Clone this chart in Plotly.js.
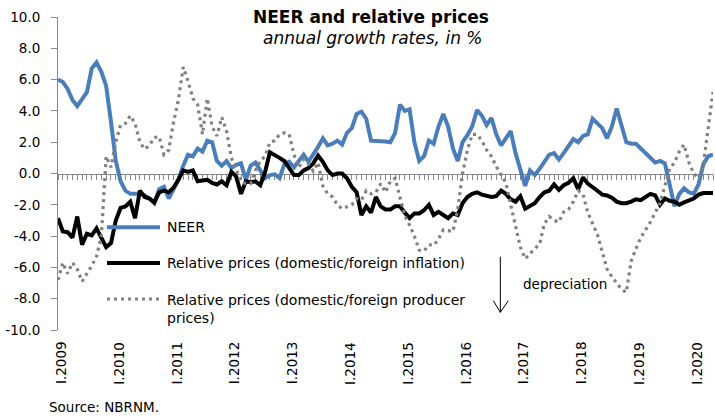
<!DOCTYPE html>
<html><head><meta charset="utf-8">
<script src="https://cdn.plot.ly/plotly-3.0.1.min.js"></script>
<style>html,body{margin:0;padding:0;background:#fff}#chart{width:715px;height:418px}</style>
</head><body><div id="chart"></div>
<script>
// ---- data ----
const firstYear = 2009, lastYear = 2020, lastMonth = 5;
const months = [];
for (let y = firstYear; y <= lastYear; y++) {
  for (let m = 1; m <= 12; m++) {
    if (y === lastYear && m > lastMonth) break;
    months.push(y + '-' + (m < 10 ? '0' + m : m));
  }
}
const tickCats = ['2009-01','2010-01','2011-01','2012-01','2013-01','2014-01','2015-01','2016-01','2017-01','2018-01','2019-01','2020-01'];
const tickLabels = ['I.2009','I.2010','I.2011','I.2012','I.2013','I.2014','I.2015','I.2016','I.2017','I.2018','I.2019','I.2020'];
const yTickVals = [-10,-8,-6,-4,-2,0,2,4,6,8,10];
const yTickText = ['-10.0','-8.0','-6.0','-4.0','-2.0','0.0','2.0','4.0','6.0','8.0','10.0'];

const neer = [
 6.0, 5.85, 5.4, 4.7, 4.3, 4.7, 5.2, 6.7, 7.1, 6.5, 5.6, 3.3,
 0.8, -0.5, -1.1, -1.3, -1.3, -1.3, -1.4, -1.6, -1.9, -1.0, -0.85, -1.6,
 -1.0, -0.4, 0.5, 1.2, 1.1, 1.6, 1.4, 2.1, 2.0, 0.8, 0.5, 0.8,
 0.35, 0.55, 0.65, -0.4, 0.5, 0.7, 0.2, -0.3, -0.1, -0.05, -0.3, 0.6,
 0.75, 0.4, 0.8, 1.2, 0.75, 1.2, 1.7, 2.25, 1.8, 1.9, 2.1, 1.85,
 2.6, 2.9, 3.8, 3.95, 3.5, 2.1, 2.1, 2.1, 2.05, 2.0, 2.6, 4.4,
 4.0, 4.1, 2.0, 0.8, 1.1, 2.1, 1.9, 3.0, 3.8, 3.0, 1.6, 0.8,
 2.0, 2.45, 3.0, 4.05, 3.7, 3.1, 3.55, 2.5, 1.8, 2.25, 2.7, 1.3,
 0.2, -0.8, 0.2, -0.1, 0.3, 0.75, 1.2, 1.3, 0.9, 1.3, 1.7, 2.2,
 2.0, 2.4, 2.5, 3.5, 3.2, 2.9, 2.25, 3.0, 4.15, 3.0, 2.0, 1.9,
 1.9, 1.6, 1.3, 1.07, 0.7, 0.8, 0.65, -0.7, -2.1, -1.3, -0.95, -1.2,
 -1.3, -0.7, 0.6, 1.1, 1.2
];
const relCPI = [
 -2.85, -3.7, -3.75, -4.1, -2.75, -4.55, -3.85, -3.95, -3.5, -4.1, -4.7, -4.45,
 -3.0, -2.2, -2.1, -1.8, -2.85, -1.1, -1.5, -1.6, -1.85, -1.2, -1.1, -1.2,
 -0.9, -0.4, 0.2, 0.1, 0.2, -0.5, -0.45, -0.4, -0.6, -0.7, -0.5, -0.75,
 0.1, -0.2, -1.3, -0.5, -0.55, -0.5, -0.75, 0.1, 1.35, 1.2, 1.0, 0.8,
 0.35, -0.1, -0.1, 0.2, 0.35, 0.65, 1.15, 0.75, 0.2, -0.1, 0.0, 0.0,
 -0.3, -0.85, -1.2, -2.65, -2.1, -2.5, -1.5, -2.1, -2.3, -2.3, -2.1, -2.1,
 -2.5, -2.85, -2.55, -2.55, -2.35, -2.0, -2.65, -2.45, -2.65, -2.85, -2.55, -2.65,
 -1.9, -1.5, -1.3, -1.2, -1.35, -1.45, -1.5, -1.45, -1.1, -1.3, -1.65, -1.8,
 -1.45, -2.25, -2.1, -1.9, -1.5, -1.2, -1.1, -0.7, -1.05, -0.75, -0.6, -0.3,
 -1.0, -0.25, -0.65, -0.85, -1.1, -1.35, -1.4, -1.55, -1.8, -1.9, -1.9, -1.8,
 -1.65, -1.7, -1.5, -1.3, -1.4, -2.0, -1.6, -1.75, -1.8, -2.0, -1.85, -1.7,
 -1.6, -1.35, -1.25, -1.25, -1.25
];
const relPPI = [
 -6.8, -5.7, -6.4, -5.7, -6.1, -6.9, -6.4, -5.9, -5.3, -4.0, 1.1, 0.4,
 2.0, 3.1, 3.2, 3.7, 3.2, 2.0, 1.55, 1.8, 2.3, 2.35, 1.2, 1.5,
 3.3, 4.7, 6.8, 5.9, 4.8, 4.4, 2.5, 4.8, 3.0, 2.4, 3.6, 2.7,
 1.0, 0.3, -0.5, -0.65, -0.65, 0.2, 0.8, 1.1, 2.0, 2.1, 2.5, 2.6,
 2.5, 1.2, 0.4, 0.9, 0.6, 0.15, 0.7, -0.8, -1.3, -1.5, -2.0, -2.25,
 -2.1, -2.0, -1.6, -1.7, -1.1, -1.3, -1.2, -0.65, -1.2, -0.5, -0.3, -1.5,
 -2.7, -3.3, -4.0, -4.9, -4.95, -4.55, -4.6, -4.2, -3.6, -3.65, -3.7, -2.3,
 0.0, 1.5, 2.5, 2.5, 2.1, 1.5, 1.1, 0.45, -0.1, -0.6, -2.0, -3.3,
 -4.7, -5.45, -5.1, -4.8, -4.5, -3.2, -2.75, -3.0, -3.1, -2.45, -2.3, -1.8,
 -1.1, -1.3, -2.5, -3.2, -3.9, -5.0, -6.1, -6.6, -7.0, -7.4, -7.6, -5.6,
 -4.8, -4.1, -3.6, -3.1, -2.5, -1.9, -0.8, 0.3, 0.7, 1.4, 1.85, 0.7,
 0.0, -0.3, 0.6, 2.9, 5.2
];
const seriesNames = ['NEER', 'Relative prices (domestic/foreign inflation)', 'Relative prices (domestic/foreign producer<br>prices)'];

// ---- styles ----
const FONT = 'DejaVu Sans, Verdana, sans-serif';
const BLUE = '#4A7EBB', BLACK = '#000000', GREY = '#808080', AXIS = '#888888';
const DOT = '3px,4px';
const W_SOLID = 4, W_DOT = 3.2;

const traces = [
  {x: months, y: neer, type: 'scatter', mode: 'lines', name: seriesNames[0],
   line: {color: BLUE, width: W_SOLID}, showlegend: false, hoverinfo: 'skip'},
  {x: months, y: relCPI, type: 'scatter', mode: 'lines', name: seriesNames[1],
   line: {color: BLACK, width: W_SOLID}, showlegend: false, hoverinfo: 'skip'},
  {x: months, y: relPPI, type: 'scatter', mode: 'lines', name: seriesNames[2],
   line: {color: GREY, width: W_DOT, dash: DOT}, showlegend: false, hoverinfo: 'skip'}
];

// manual legend (x in paper, y in data units)
const legX0 = 0.0748, legX1 = 0.1557, legTX = 0.1634;
const legY = [-3.44, -5.72, -8.02];
const legTextY = [-3.44, -5.74, -8.65];
const legStyles = [
  {color: BLUE, width: W_SOLID},
  {color: BLACK, width: W_SOLID},
  {color: GREY, width: W_DOT, dash: DOT}
];
const shapes = legY.map((yy, k) => ({
  type: 'line', xref: 'paper', yref: 'y', x0: legX0, x1: legX1, y0: yy, y1: yy, line: legStyles[k]
}));
// depreciation arrow
shapes.push({type: 'line', xref: 'paper', yref: 'y', x0: 0.6753, x1: 0.6753, y0: -5.32, y1: -8.87,
  line: {color: '#000', width: 1}});
shapes.push({type: 'path', xref: 'paper', yref: 'y', path: 'M0.6646,-8.13 L0.6753,-8.87 L0.6875,-8.13',
  line: {color: '#000', width: 1}});

const annotations = seriesNames.map((t, k) => ({
  xref: 'paper', yref: 'y', x: legTX, y: legTextY[k], xanchor: 'left', yanchor: 'middle',
  align: 'left', text: t, showarrow: false, font: {family: FONT, size: 14, color: '#000'}
}));
// year labels under the plot, placed on the category axis
tickCats.forEach((c, k) => annotations.push({
  xref: 'x', yref: 'paper', x: c, y: -0.1054, xanchor: 'center', yanchor: 'middle', xshift: 3,
  text: tickLabels[k], textangle: -90, showarrow: false, font: {family: FONT, size: 13.5, color: '#000'}
}));
annotations.push({xref: 'paper', yref: 'paper', x: 0.4794, y: 0.9329, xanchor: 'center', yanchor: 'middle',
  text: '<i>annual growth rates, in %</i>', showarrow: false, font: {family: FONT, size: 17, color: '#000'}});
annotations.push({xref: 'paper', yref: 'y', x: 0.7736, y: -7.09, xanchor: 'center', yanchor: 'middle',
  text: 'depreciation', showarrow: false, font: {family: FONT, size: 13.5, color: '#000'}});
annotations.push({xref: 'paper', yref: 'paper', x: -0.0173, y: -0.246, xanchor: 'left', yanchor: 'middle',
  text: 'Source: NBRNM.', showarrow: false, font: {family: FONT, size: 13.5, color: '#000'}});

const layout = {
  width: 715, height: 418,
  margin: {l: 58, r: 2, t: 17, b: 88, pad: 0},
  paper_bgcolor: '#ffffff', plot_bgcolor: '#ffffff',
  font: {family: FONT, size: 13.5, color: '#000'},
  title: {text: '<b>NEER and relative prices</b>', font: {family: FONT, size: 17, color: '#000'},
          xref: 'container', yref: 'container', x: 0.5189, xanchor: 'center', y: 0.9586, yanchor: 'middle'},
  showlegend: false,
  // category axis drawn along the zero line, with a tick for every month
  xaxis: {type: 'category', range: [0, months.length - 1], anchor: 'free', position: 0.5, side: 'bottom',
          tickmode: 'linear', tick0: 0, dtick: 1, ticks: 'outside', ticklen: 5, tickwidth: 1, tickcolor: AXIS,
          showline: true, linecolor: AXIS, linewidth: 1, showticklabels: false, layer: 'below traces',
          showgrid: false, zeroline: false, automargin: false, fixedrange: true},
  yaxis: {range: [-10, 10], tickmode: 'array', tickvals: yTickVals, ticktext: yTickText,
          ticks: 'outside', ticklen: 6, tickwidth: 1, tickcolor: AXIS, showline: true, linecolor: AXIS, linewidth: 1,
          showgrid: false, zeroline: false, ticklabelstandoff: 8, layer: 'below traces',
          tickfont: {family: FONT, size: 13.5, color: '#000'}, automargin: false, fixedrange: true},
  shapes: shapes,
  annotations: annotations
};

Plotly.newPlot('chart', traces, layout, {staticPlot: true, displayModeBar: false});
</script></body></html>
